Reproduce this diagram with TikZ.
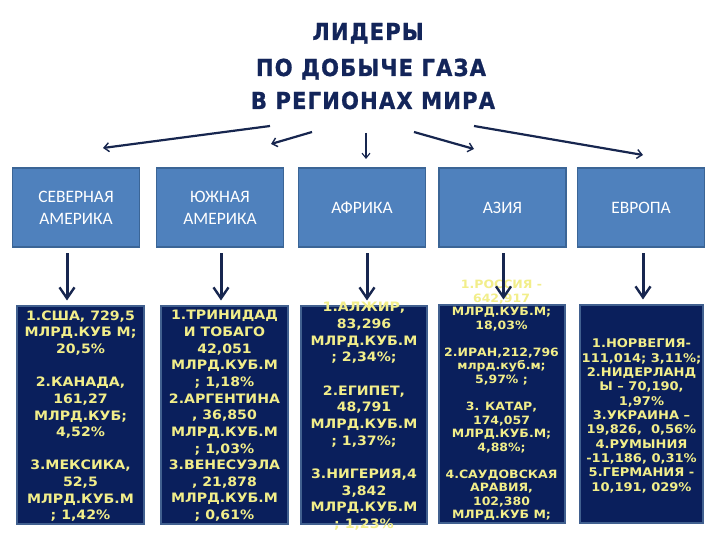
\documentclass[tikz,border=0pt]{standalone}
\usepackage{fontspec}
\usetikzlibrary{arrows.meta,calc}
\newfontfamily\titlefont[FakeStretch=0.9,LetterSpace=5,FakeBold=1]{DejaVu Sans}
\newfontfamily\regfont{Carlito}
\newfontfamily\datafont[FakeStretch=1.09]{DejaVu Sans}
\definecolor{titlenavy}{HTML}{13255A}
\definecolor{arrownavy}{HTML}{17264F}
\definecolor{regblue}{HTML}{4F81BD}
\definecolor{regedge}{HTML}{3B6596}
\definecolor{datanavy}{HTML}{0A1F5C}
\definecolor{dataedge}{HTML}{41608F}
\definecolor{datayellow}{HTML}{F2EE8A}
\tikzset{
  titletext/.style={font=\titlefont\bfseries\fontsize{23.5}{26}\selectfont, text=titlenavy, inner sep=0, anchor=base},
  regbox/.style={draw=regedge, line width=1.2bp, fill=regblue, minimum width=127bp, minimum height=79bp, inner sep=0, outer sep=0, text=white, align=center, font=\regfont\fontsize{17.5}{22}\selectfont},
  databox/.style={draw=dataedge, line width=2bp, fill=datanavy, minimum height=217bp, inner sep=0, outer sep=0},
  datatext/.style={text=datayellow, align=center, inner sep=0, anchor=north},
  bigtext/.style={datatext, font=\datafont\bfseries\fontsize{13}{16.7}\selectfont},
  midtext/.style={datatext, font=\datafont\bfseries\fontsize{12}{14.4}\selectfont},
  smalltext/.style={datatext, font=\datafont\bfseries\fontsize{11.5}{13.6}\selectfont},
  toparrow/.style={draw=arrownavy, line width=2.2bp, -{Straight Barb[length=5bp,width=9bp,line width=1.4bp]}},
  thinarrow/.style={draw=arrownavy, line width=1.1bp, -{Straight Barb[length=5bp,width=8bp,line width=1.1bp]}},
  downarrow/.style={draw=arrownavy, line width=3bp, -{Straight Barb[length=11bp,width=15bp,line width=2.4bp]}, shorten <=6bp, shorten >=6bp}
}
\begin{document}
\begin{tikzpicture}[x=1bp,y=-1bp]
\useasboundingbox (0,0) rectangle (720,540);
\fill[white] (0,0) rectangle (720,540);

% title
\node[titletext] (t1) at (368,40) {ЛИДЕРЫ};
\node[titletext] (t2) at (371,76) {ПО ДОБЫЧЕ ГАЗА};
\node[titletext] (t3) at (373,109) {В РЕГИОНАХ МИРА};

% region boxes
\node[regbox] (r1) at (76,207.5) {СЕВЕРНАЯ\\АМЕРИКА};
\node[regbox] (r2) at (220,207.5) {ЮЖНАЯ\\АМЕРИКА};
\node[regbox] (r3) at (362,207.5) {АФРИКА};
\node[regbox] (r4) at (502.5,207.5) {АЗИЯ};
\node[regbox] (r5) at (641,207.5) {ЕВРОПА};

% title arrows
\coordinate (s1) at (270,126); \coordinate (e1) at (103,148);
\coordinate (s2) at (312,132); \coordinate (e2) at (271,144);
\coordinate (s3) at (366,133); \coordinate (e3) at (366,159);
\coordinate (s4) at (414,132); \coordinate (e4) at (474,149);
\coordinate (s5) at (474,126); \coordinate (e5) at (643,155);
\draw[toparrow] (s1) -- (e1);
\draw[toparrow] (s2) -- (e2);
\draw[thinarrow] (s3) -- (e3);
\draw[toparrow] (s4) -- (e4);
\draw[toparrow] (s5) -- (e5);

% data boxes
\node[databox, minimum width=127bp] (d1) at (80.5,415) {};
\node[databox, minimum width=127bp] (d2) at (224.5,415) {};
\node[databox, minimum width=126bp] (d3) at (364,415) {};
\node[databox, minimum width=126bp] (d4) at (502,414) {};
\node[databox, minimum width=123bp] (d5) at (641.5,414) {};

% data texts
\node[bigtext] (x1) at (80.5,310.3) {1.США, 729,5\\МЛРД.КУБ М;\\20,5\%\\[16.7bp]2.КАНАДА,\\161,27\\МЛРД.КУБ;\\4,52\%\\[16.7bp]3.МЕКСИКА,\\52,5\\МЛРД.КУБ.М\\; 1,42\%};
\node[bigtext] (x2) at (224.5,310.3) {1.ТРИНИДАД\\И ТОБАГО\\42,051\\МЛРД.КУБ.М\\; 1,18\%\\2.АРГЕНТИНА\\, 36,850\\МЛРД.КУБ.М\\; 1,03\%\\3.ВЕНЕСУЭЛА\\, 21,878\\МЛРД.КУБ.М\\; 0,61\%};
\node[bigtext] (x3) at (364,302.3) {1.АЛЖИР,\\83,296\\МЛРД.КУБ.М\\; 2,34\%;\\[16.7bp]2.ЕГИПЕТ,\\48,791\\МЛРД.КУБ.М\\; 1,37\%;\\[16.7bp]3.НИГЕРИЯ,4\\3,842\\МЛРД.КУБ.М\\; 1,23\%};
\node[smalltext] (x4) at (501.5,279.8) {1.РОССИЯ -\\642,917\\МЛРД.КУБ.М;\\18,03\%\\[13.6bp]2.ИРАН,212,796\\млрд.куб.м;\\5,97\% ;\\[13.6bp]3. КАТАР,\\174,057\\МЛРД.КУБ.М;\\4,88\%;\\[13.6bp]4.САУДОВСКАЯ\\АРАВИЯ,\\102,380\\МЛРД.КУБ М;};
\node[midtext] (x5) at (641.5,338.6) {1.НОРВЕГИЯ-\\111,014; 3,11\%;\\2.НИДЕРЛАНД\\Ы – 70,190,\\1,97\%\\3.УКРАИНА –\\19,826,\ \ 0,56\%\\4.РУМЫНИЯ\\-11,186, 0,31\%\\5.ГЕРМАНИЯ -\\10,191, 029\%};

% down arrows
\draw[downarrow] ([xshift=-9bp]r1.south) -- ([xshift=-9bp]r1.south |- d1.north);
\draw[downarrow] ([xshift=1bp]r2.south) -- ([xshift=1bp]r2.south |- d2.north);
\draw[downarrow] ([xshift=5bp]r3.south) -- ([xshift=5bp]r3.south |- d3.north);
\draw[downarrow] ([xshift=1bp]r4.south) -- ([xshift=1bp]r4.south |- d4.north);
\draw[downarrow] ([xshift=2bp]r5.south) -- ([xshift=2bp]r5.south |- d5.north);
\end{tikzpicture}
\end{document}
